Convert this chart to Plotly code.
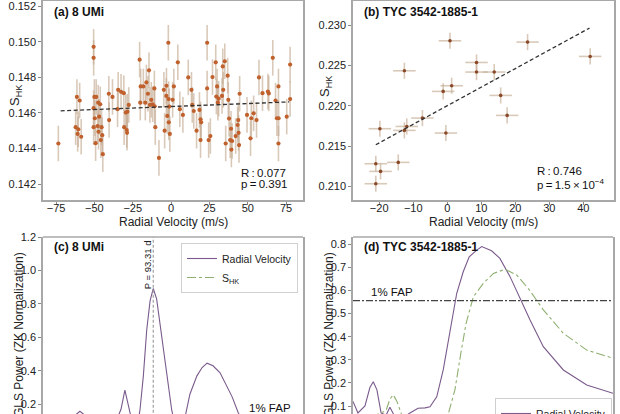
import plotly.graph_objects as go

# ---------------- data ----------------
# (a) 8 UMi : RV vs S_HK
a_rv = [-73.5, -62.2, -61.4, -60.9, -60.5, -59.6, -58.6, -50.5, -50.5, -50.5, -50.5, -50.0,
        -49.7, -49.2, -48.8, -47.9, -47.5, -47.3, -46.9, -46.2, -45.8, -45.3, -44.9, -44.5,
        -40.6, -40.4, -38.2, -34.9, -34.5, -32.6, -30.8, -30.6, -29.5, -28.9, -28.7, -28.5,
        -27.6, -20.5, -20.1, -19.8, -18.1, -16.8, -16.1, -15.1, -14.4, -13.8, -12.9, -12.0,
        -10.9, -10.7, -10.3, -7.9, -4.7, -4.2, -3.1, -3.0, -2.5, -1.8, -1.6, -1.5, -1.2, -0.8,
        1.0, 1.8, 4.4, 5.7, 7.7, 11.2, 13.3, 13.8, 14.8, 16.6, 18.5, 19.2, 19.6, 19.2,
        23.5, 23.5, 24.5, 25.6, 27.0, 29.1, 29.5, 30.0, 30.5, 31.0, 33.2, 33.7, 34.0, 35.0,
        35.6, 36.9, 37.3, 37.8, 38.5, 39.1, 39.3, 39.8, 42.1, 43.4, 43.8, 44.0, 44.3, 44.7,
        49.5, 51.8, 52.3, 53.8, 55.7, 57.3, 59.6, 63.1, 63.7, 66.3, 68.1, 69.0, 70.0, 70.1,
        70.0, 75.4, 77.6, 77.6]
a_shk = [0.14428, 0.14520, 0.14690, 0.14482, 0.14508, 0.14670, 0.14466, 0.14972, 0.14910, 0.14627, 0.14520, 0.14690,
         0.14570, 0.14430, 0.14690, 0.14526, 0.14658, 0.14494, 0.14579, 0.14649, 0.14447, 0.14520, 0.14475, 0.14368,
         0.14708, 0.14560, 0.14690, 0.14621, 0.14730, 0.14719, 0.14711, 0.14520, 0.14602, 0.14504, 0.14488, 0.14607,
         0.14645, 0.14900, 0.14658, 0.14749, 0.14749, 0.14658, 0.14772, 0.14708, 0.14840, 0.14645, 0.14674, 0.14649,
         0.14738, 0.14637, 0.14520, 0.14347, 0.14730, 0.14500, 0.14696, 0.14753, 0.14583, 0.14995, 0.14678, 0.14547, 0.14636, 0.14482,
         0.14674, 0.14749, 0.14885, 0.14621, 0.14589, 0.14800, 0.14730, 0.14645, 0.14611, 0.14500, 0.14617, 0.14564, 0.14547, 0.14447,
         0.14995, 0.14738, 0.14447, 0.14470, 0.14802, 0.14885, 0.14692, 0.14749, 0.14658, 0.14680, 0.14696, 0.14862, 0.14730, 0.14891,
         0.14428, 0.14810, 0.14674, 0.14568, 0.14447, 0.14511, 0.14394, 0.14442, 0.14470, 0.14532, 0.14560, 0.14488, 0.14419, 0.14708,
         0.14589, 0.14457, 0.14570, 0.14598, 0.14560, 0.14800, 0.14711, 0.14720, 0.14710, 0.14910, 0.14670, 0.14570, 0.14749, 0.14570,
         0.14428, 0.14579, 0.14872, 0.14678]
a_shk_err = 0.001
a_fit_x = [-72.0, 77.0]
a_fit_y = [0.14612, 0.14662]

# (b) TYC 3542-1885-1 : RV vs S_HK
b_rv = [-21.0, -21.0, -19.6, -19.8, -14.4, -12.6, -12.6, -11.9, -7.3, -1.2,
        -0.4, 0.8, 1.3, 8.6, 8.6, 13.8, 15.7, 17.6, 23.6, 42.0]
b_shk = [0.21032, 0.21280, 0.21185, 0.21715, 0.21297, 0.22434, 0.21694, 0.21743, 0.21847, 0.22178,
         0.21661, 0.22806, 0.22248, 0.22537, 0.22418, 0.22418, 0.22128, 0.21880, 0.22790, 0.22612]
b_rv_err = 3.3
b_shk_err = 0.001
b_fit_x = [-21.0, 41.8]
b_fit_y = [0.21516, 0.22964]

# (c) 8 UMi periodogram (frequency grid in arbitrary units)
c_freq = [0, 6.5, 11.2, 14.2, 17.3, 22, 26.5, 28.8, 30, 31.5, 33, 34.2, 36.1, 37.3, 38.6, 39.9,
          41.2, 42.4, 43.7, 45, 46.3, 47.6, 49.5, 51.2, 53.5, 55, 56.5, 59.2, 61.2, 63.1, 65.4,
          68.1, 70.4, 72.7, 75.1, 77.3, 80.8, 86.5, 100]
c_rv_power = [0.05, 0.08, 0.12, 0.158, 0.12, 0.05, 0.04, 0.13, 0.17, 0.285, 0.17, 0.10, 0.05, 0.166, 0.37, 0.646,
              0.82, 0.892, 0.83, 0.686, 0.55, 0.406, 0.166, 0.05, 0.03, 0.15, 0.26, 0.37, 0.42, 0.446, 0.43,
              0.388, 0.32, 0.246, 0.15, 0.08, 0.04, 0.06, 0.03]
c_shk_power = [0.02, 0.04, 0.06, 0.05, 0.03, 0.05, 0.07, 0.06, 0.04, 0.05, 0.08, 0.1, 0.07, 0.05,
               0.04, 0.06, 0.09, 0.11, 0.08, 0.06, 0.05, 0.04, 0.06, 0.08, 0.1, 0.09, 0.07, 0.06,
               0.08, 0.1, 0.11, 0.1, 0.09, 0.08, 0.07, 0.06, 0.05, 0.04, 0.03]
c_peak_freq = 42.4
c_peak_label = "P = 93.31 d"

# (d) TYC 3542-1885-1 periodogram
d_freq = [0, 1.9, 4.6, 6.5, 7.8, 9.2, 10.8, 12.7, 14.2, 15.8, 18.1, 21.9, 25, 27.7, 29.6, 32.2,
          34.7, 37.3, 39.9, 42.4, 44.7, 47.6, 49.5, 53.3, 56.5, 60.4, 64.2, 68.1, 73.2, 80.9, 89.9, 100]
d_rv_power = [0.12, 0.07, 0.10, 0.18, 0.205, 0.17, 0.07, 0.06, 0.095, 0.06, 0.04, 0.07, 0.09, 0.092, 0.097, 0.14,
              0.256, 0.416, 0.588, 0.681, 0.746, 0.775, 0.79, 0.772, 0.739, 0.66, 0.566, 0.472, 0.357, 0.256, 0.191, 0.155]
d_freq_s = [0, 6.5, 12.7, 14.2, 15.5, 16.9, 18.8, 25.4, 36.5, 39.2, 41.5, 43.5, 46.3, 50.1, 54, 58.5,
            63, 67.9, 73.2, 80.9, 89.9, 100]
d_shk_power = [0.03, 0.05, 0.08, 0.13, 0.148, 0.12, 0.06, 0.03, 0.06, 0.17, 0.33, 0.458, 0.573, 0.631, 0.674, 0.692,
               0.667, 0.602, 0.516, 0.415, 0.342, 0.307]
d_fap = 0.556

# ---------------- styling ----------------
W, H = 620, 414
FONT = "Liberation Sans, Arial, Helvetica, sans-serif"
PT_COLOR = "#c0602c"
ERR_COLOR = "rgba(196,172,148,0.65)"
RV_COLOR = "#7a5a8c"
SHK_COLOR = "#8fb070"
FRAME = "#a8a8a8"


def px(xp):
    return xp / W


def py(yp):
    return 1 - yp / H


fig = go.Figure()

# (a)
fig.add_trace(go.Scatter(x=a_rv, y=a_shk, mode="markers", xaxis="x", yaxis="y",
                         marker=dict(size=4.2, color=PT_COLOR),
                         error_y=dict(type="constant", value=a_shk_err, color=ERR_COLOR, thickness=1.6, width=0),
                         showlegend=False))
fig.add_trace(go.Scatter(x=a_fit_x, y=a_fit_y, mode="lines", xaxis="x", yaxis="y",
                         line=dict(color="#333", width=1.3, dash="4px,2.5px"), showlegend=False))

# (b)
fig.add_trace(go.Scatter(x=b_rv, y=b_shk, mode="markers", xaxis="x2", yaxis="y2",
                         marker=dict(size=3.6, color="#8a4a2a"),
                         error_y=dict(type="constant", value=b_shk_err, color=ERR_COLOR, thickness=1.6, width=0),
                         error_x=dict(type="constant", value=b_rv_err, color=ERR_COLOR, thickness=1.6, width=0),
                         showlegend=False))
fig.add_trace(go.Scatter(x=b_fit_x, y=b_fit_y, mode="lines", xaxis="x2", yaxis="y2",
                         line=dict(color="#333", width=1.3, dash="4px,2.5px"), showlegend=False))

# (c)
fig.add_trace(go.Scatter(x=c_freq, y=c_rv_power, mode="lines", xaxis="x3", yaxis="y3", name="Radial Velocity",
                         line=dict(color=RV_COLOR, width=1.1), legend="legend"))
fig.add_trace(go.Scatter(x=c_freq, y=c_shk_power, mode="lines", xaxis="x3", yaxis="y3", name="S<sub>HK</sub>",
                         line=dict(color=SHK_COLOR, width=1.1, dash="dashdot"), legend="legend"))
fig.add_trace(go.Scatter(x=[c_peak_freq, c_peak_freq], y=[0, 1.2], mode="lines", xaxis="x3", yaxis="y3",
                         line=dict(color="#999", width=1.1, dash="3px,2px"), showlegend=False))

# (d)
fig.add_trace(go.Scatter(x=d_freq, y=d_rv_power, mode="lines", xaxis="x4", yaxis="y4", name="Radial Velocity",
                         line=dict(color=RV_COLOR, width=1.1), legend="legend2"))
fig.add_trace(go.Scatter(x=d_freq_s, y=d_shk_power, mode="lines", xaxis="x4", yaxis="y4", name="S<sub>HK</sub>",
                         line=dict(color=SHK_COLOR, width=1.1, dash="dashdot"), legend="legend2"))
fig.add_trace(go.Scatter(x=[0, 100], y=[d_fap, d_fap], mode="lines", xaxis="x4", yaxis="y4",
                         line=dict(color="#444", width=1.3, dash="7px,2px,2px,2px"), showlegend=False))

tickfont = dict(family=FONT, size=11, color="#222")
common_axis = dict(showgrid=False, zeroline=False, tickwidth=1, automargin=False,
                   tickcolor="#888", tickfont=tickfont, linecolor=FRAME, linewidth=1.5)
xt = dict(ticks="outside", ticklen=3, ticklabelstandoff=-6)
yt = dict(ticks="outside", ticklen=3)
title_font = dict(family=FONT, size=12, color="#222")

fig.update_layout(
    width=W, height=H, margin=dict(l=0, r=0, t=0, b=0, autoexpand=False),
    paper_bgcolor="white", plot_bgcolor="white",
    font=dict(family=FONT, size=11, color="#222"),
    xaxis=dict(domain=[px(43), px(303)], anchor="y", range=[-83.5, 86], tickvals=[-75, -50, -25, 0, 25, 50, 75],
               showline=True, mirror=True, **xt, **common_axis),
    yaxis=dict(domain=[py(200), py(1)], anchor="x", range=[0.1411, 0.1523],
               tickvals=[0.142, 0.144, 0.146, 0.148, 0.150, 0.152], tickformat=".3f",
               showline=True, mirror=True, **yt, **common_axis),
    xaxis2=dict(domain=[px(353), px(614)], anchor="y2", range=[-27.7, 49], tickvals=[-20, -10, 0, 10, 20, 30, 40],
                showline=True, mirror=True, **xt, **common_axis),
    yaxis2=dict(domain=[py(200), py(1)], anchor="x2", range=[0.2083, 0.233],
                tickvals=[0.210, 0.215, 0.220, 0.225, 0.230], tickformat=".3f",
                showline=True, mirror=True, **yt, **common_axis),
    xaxis3=dict(domain=[px(43), px(303)], anchor="y3", range=[0, 100], showticklabels=False,
                showline=False, ticks="", **common_axis),
    yaxis3=dict(domain=[0, py(237)], anchor="x3", range=[0.142, 1.2], tickvals=[0.2, 0.4, 0.6, 0.8, 1.0, 1.2],
                tickformat=".1f", showline=True, mirror=True, **yt, **common_axis),
    xaxis4=dict(domain=[px(353), px(613)], anchor="y4", range=[0, 100], showticklabels=False,
                showline=False, ticks="", **common_axis),
    yaxis4=dict(domain=[0, py(237)], anchor="x4", range=[0.0654, 0.8316],
                tickvals=[0.1, 0.2, 0.3, 0.4, 0.5, 0.6, 0.7, 0.8], tickformat=".1f",
                showline=True, mirror=True, **yt, **common_axis),
    legend=dict(x=px(298), y=py(243), xanchor="right", yanchor="top", bgcolor="white",
                bordercolor="#d0d0d0", borderwidth=1, font=dict(family=FONT, size=10.5, color="#222"),
                itemwidth=30, tracegroupgap=0),
    legend2=dict(x=px(612), y=py(398), xanchor="right", yanchor="top", bgcolor="white",
                 bordercolor="#d0d0d0", borderwidth=1, font=dict(family=FONT, size=10.5, color="#222"),
                 itemwidth=30, tracegroupgap=0),
)

# top frame lines for the cut-off bottom panels
for xr, yr in (("x3 domain", "y3 domain"), ("x4 domain", "y4 domain")):
    fig.add_shape(type="line", xref=xr, yref=yr, x0=0, x1=1, y0=1, y1=1, line=dict(color=FRAME, width=1.5))

base = dict(showarrow=False, xref="paper", yref="paper")
ann = dict(font=dict(family=FONT, size=12, color="#111"), **base)
fig.add_annotation(text="<b>(a) 8 UMi</b>", x=px(52), y=py(12), xanchor="left", yanchor="middle", **ann)
fig.add_annotation(text="<b>(b) TYC 3542-1885-1</b>", x=px(362), y=py(12), xanchor="left", yanchor="middle", **ann)
fig.add_annotation(text="<b>(c) 8 UMi</b>", x=px(52), y=py(247), xanchor="left", yanchor="middle", **ann)
fig.add_annotation(text="<b>(d) TYC 3542-1885-1</b>", x=px(362), y=py(247), xanchor="left", yanchor="middle", **ann)

# axis titles
ctr = dict(xanchor="center", yanchor="middle")
for xc in (173.5, 483.5):
    fig.add_annotation(text="Radial Velocity (m/s)", x=px(xc), y=py(222), font=title_font, **ctr, **base)
for xc, yc in ((15, 96), (325, 87)):
    fig.add_annotation(text="S<sub>HK</sub>", x=px(xc), y=py(yc), textangle=-90,
                       font=dict(family=FONT, size=13, color="#222"), **ctr, **base)
for xc in (19, 329):
    fig.add_annotation(text="GLS Power (ZK Normalization)", x=px(xc), y=py(335), textangle=-90,
                       font=title_font, **ctr, **base)

stat = dict(font=dict(family=FONT, size=11.5, color="#111"), xanchor="left", yanchor="middle", align="left", **base)
fig.add_annotation(text="R\u2009:\u20090.077", x=px(239), y=py(173), **stat)
fig.add_annotation(text="p\u2009=\u20090.391", x=px(239), y=py(184), **stat)
fig.add_annotation(text="R\u2009:\u20090.746", x=px(535), y=py(171), **stat)
fig.add_annotation(text="p\u2009=\u20091.5\u2009\u00d7\u200910<sup>\u22124</sup>", x=px(535), y=py(184), **stat)

fig.add_annotation(text=c_peak_label, xref="x3", yref="paper", x=c_peak_freq, y=py(265), xshift=-6,
                   textangle=-90, showarrow=False, xanchor="center", yanchor="middle",
                   font=dict(family=FONT, size=9.5, color="#222"))
fig.add_annotation(text="1% FAP", x=px(293), y=py(408), xanchor="right", yanchor="middle",
                   font=dict(family=FONT, size=11.5, color="#111"), **base)
fig.add_annotation(text="1% FAP", x=px(369), y=py(292), xanchor="left", yanchor="middle",
                   font=dict(family=FONT, size=11.5, color="#111"), **base)

fig.write_html("out.html", config={"displayModeBar": False},
               post_script="document.body.style.margin='0';document.body.style.overflow='hidden';")
